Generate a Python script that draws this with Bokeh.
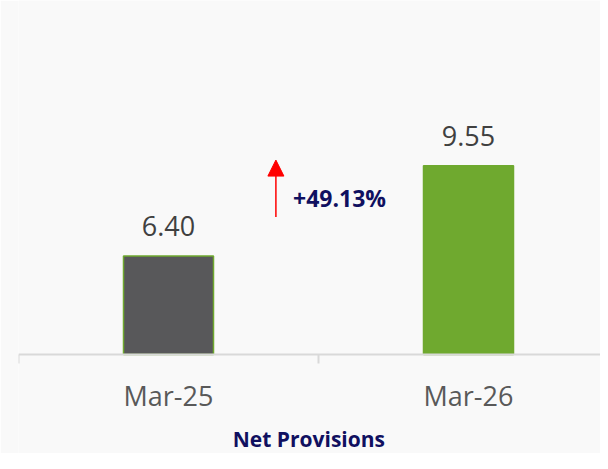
from bokeh.plotting import figure
from bokeh.models import Range1d, FixedTicker, Label, Arrow, NormalHead, ColumnDataSource
from bokeh.core.properties import value
from bokeh.embed import file_html
from bokeh.resources import INLINE

categories = ["Mar-25", "Mar-26"]
values = [6.40, 9.55]
bar_fill = ["#58585a", "#6fa92f"]
bar_line = ["#6fa92f", "#6fa92f"]
value_labels = ["6.40", "9.55"]
change_text = "+49.13%"
chart_title = "Net Provisions"

FONT = "Open Sans"
BG = "#f9f9f9"

x_pos = list(range(len(categories)))
y_base = 2.95

p = figure(width=600, height=453, output_backend="svg", toolbar_location=None,
           x_range=Range1d(-0.5, 1.44), y_range=Range1d(-0.51, 15.33),
           y_axis_location=None, min_border_left=18, min_border_right=0,
           min_border_top=0, min_border_bottom=0)
p.background_fill_color = BG
p.border_fill_color = BG
p.outline_line_color = None
p.xgrid.visible = False
p.ygrid.visible = False

src = ColumnDataSource(dict(x=x_pos, top=values, fill=bar_fill, line=bar_line, lab=value_labels))
p.vbar(x="x", top="top", bottom=y_base, width=0.3, fill_color="fill", line_color="line",
       line_width=1.5, source=src)
p.text(x="x", y="top", text="lab", source=src, text_align="center", text_baseline="middle",
       y_offset=-30, text_font=value(FONT), text_font_size="27px", text_color="#404040")

ax = p.xaxis[0]
ax.fixed_location = y_base
ax.ticker = FixedTicker(ticks=x_pos, minor_ticks=[-0.5, 0.5, 1.5])
ax.major_label_overrides = {i: c for i, c in zip(x_pos, categories)}
ax.axis_line_color = "#d9d9d9"
ax.axis_line_width = 2
ax.major_tick_line_color = None
ax.major_tick_out = 0
ax.major_tick_in = 0
ax.minor_tick_line_color = "#d9d9d9"
ax.minor_tick_line_width = 2
ax.minor_tick_out = 9
ax.minor_tick_in = 0
ax.major_label_text_font = FONT
ax.major_label_text_font_size = "27px"
ax.major_label_text_color = "#595959"
ax.major_label_standoff = 13

# growth arrow and label
p.add_layout(Arrow(end=NormalHead(size=16, fill_color="red", line_color="red"),
                   x_start=0.358, y_start=7.76, x_end=0.358, y_end=9.75,
                   line_color="red", line_width=1.5))
p.add_layout(Label(x=0.415, y=8.42, text=change_text, text_font=FONT, text_font_size="23px",
                   text_font_style="bold", text_color="#101060", text_baseline="middle"))
p.add_layout(Label(x=0.468, y=0.01, text=chart_title, text_font=FONT, text_font_size="21px",
                   text_font_style="bold", text_color="#101060", text_align="center",
                   text_baseline="middle"))

open("out.html", "w").write(file_html(p, INLINE))
